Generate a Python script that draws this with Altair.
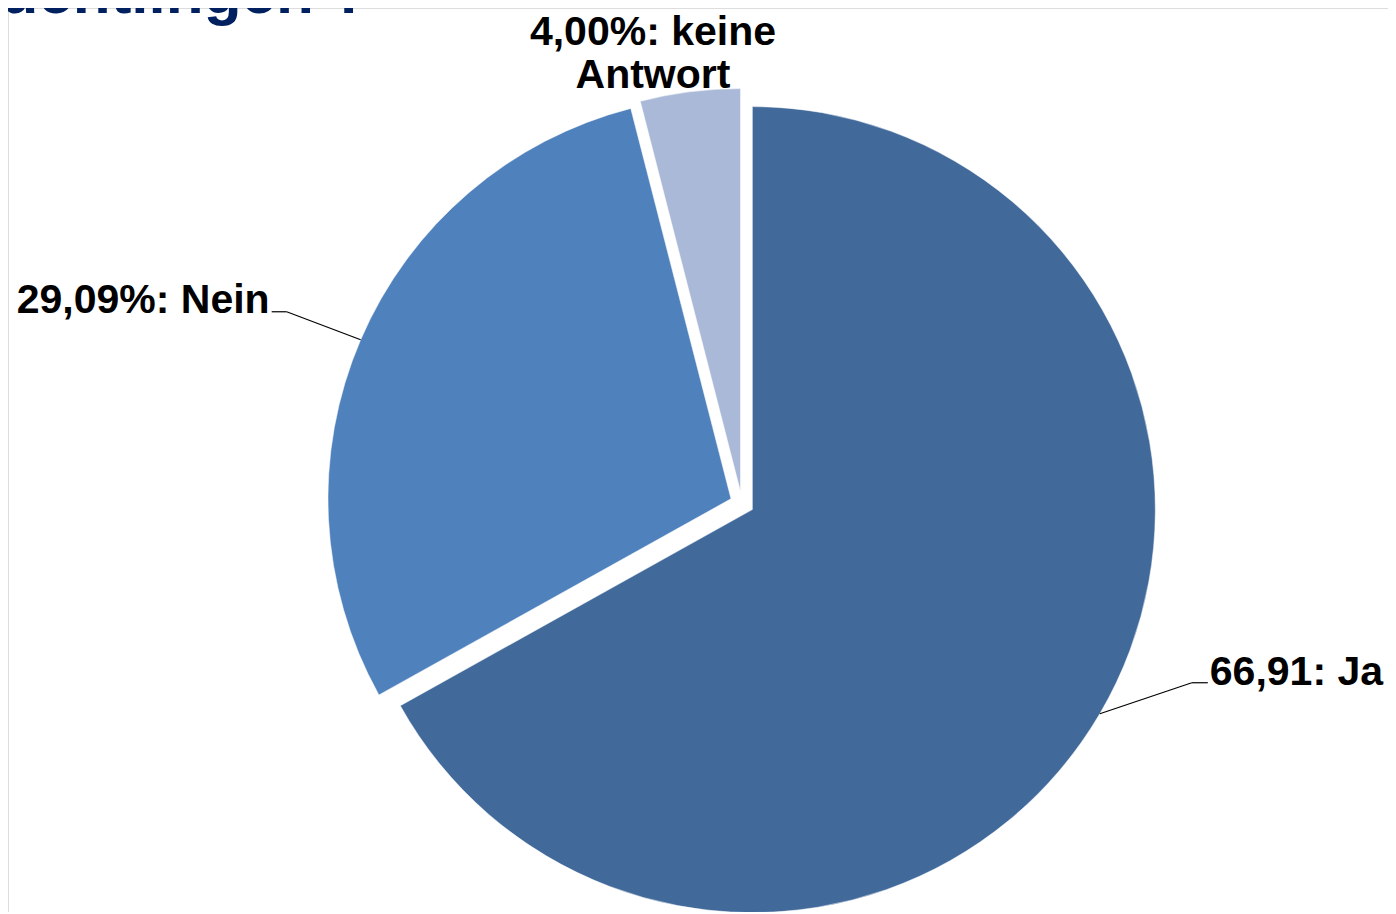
import altair as alt
import pandas as pd

# ---- data -------------------------------------------------------------
categories = ["Ja", "Nein", "keine Antwort"]
values = [66.91, 29.09, 4.00]
labels = ["66,91: Ja", "29,09%: Nein", "4,00%: keine\nAntwort"]
colors = ["#416A9B", "#4F81BD", "#AAB9D7"]
title_text = "Flüchtlingen ?"

# ---- layout (pixels, svg coordinates) ------------------------------------
CX, CY = 734, 495.5      # pie centre
R = 403                  # radius
EXPLODE = 12             # explosion of every slice
FONT = "Liberation Sans"
FS = 41

# label / leader geometry relative to the slice's outer mid point
layout = {
    "Ja":            dict(edx=92,  edy=-31, hdx=16,  tdx=2,  tdy=2, lead=1, side="left"),
    "Nein":          dict(edx=-74, edy=-28, hdx=-15, tdx=-2, tdy=1, lead=1, side="right"),
    "keine Antwort": dict(edx=-37, edy=-47, hdx=0,   tdx=0,  tdy=0, lead=0, side="center"),
}

df = pd.DataFrame({"category": categories, "value": values, "label": labels})
df["order"] = range(len(df))
for k in ["edx", "edy", "hdx", "tdx", "tdy", "lead", "side"]:
    df[k] = [layout[c][k] for c in categories]

base = (
    alt.Chart(df)
    .transform_window(cum="sum(value)", sort=[alt.SortField("order")], frame=[None, 0])
    .transform_calculate(
        start="datum.cum - datum.value",
        end="datum.cum",
        mid="(datum.cum - datum.value / 2) / 100 * 2 * PI",
    )
    .transform_calculate(
        px=f"{CX} + {EXPLODE} * sin(datum.mid)",
        py=f"{CY} - {EXPLODE} * cos(datum.mid)",
        ax=f"{CX} + {R + EXPLODE} * sin(datum.mid)",
        ay=f"{CY} - {R + EXPLODE} * cos(datum.mid)",
    )
    .transform_calculate(
        ex="datum.ax + datum.edx",
        ey="datum.ay + datum.edy",
    )
    .transform_calculate(
        hx="datum.ex + datum.hdx",
        tx="datum.ex + datum.hdx + datum.tdx",
        ty="datum.ey + datum.tdy",
    )
)

TAU = 6.283185307179586

pie = base.mark_arc(radius=R, stroke="white", strokeWidth=0.5).encode(
    x=alt.X("px:Q", scale=None, axis=None),
    y=alt.Y("py:Q", scale=None, axis=None),
    theta=alt.Theta("start:Q", scale=alt.Scale(domain=[0, 100], range=[0, TAU]), stack=False),
    theta2="end:Q",
    color=alt.Color("category:N", scale=alt.Scale(domain=categories, range=colors), legend=None),
)

lead1 = base.transform_filter("datum.lead == 1").mark_rule(color="black", strokeWidth=1.2).encode(
    x=alt.X("ax:Q", scale=None, axis=None),
    y=alt.Y("ay:Q", scale=None, axis=None),
    x2="ex:Q",
    y2="ey:Q",
)
lead2 = base.transform_filter("datum.lead == 1").mark_rule(color="black", strokeWidth=1.2).encode(
    x=alt.X("ex:Q", scale=None, axis=None),
    y=alt.Y("ey:Q", scale=None, axis=None),
    x2="hx:Q",
    y2="ey:Q",
)

def label_layer(side):
    return (
        base.transform_filter(f"datum.side == '{side}'")
        .mark_text(
            align=side,
            baseline="alphabetic",
            font=FONT,
            fontSize=FS,
            fontWeight="bold",
            color="black",
            lineBreak="\n",
            lineHeight=43,
        )
        .encode(
            x=alt.X("tx:Q", scale=None, axis=None),
            y=alt.Y("ty:Q", scale=None, axis=None),
            text="label:N",
        )
    )

title = (
    alt.Chart(pd.DataFrame({"t": [title_text]}))
    .mark_text(align="right", baseline="alphabetic", font=FONT, fontSize=62,
               fontWeight="bold", color="#002060")
    .encode(x=alt.value(361), y=alt.value(5), text="t:N")
)

chart = (
    alt.layer(pie, lead1, lead2, label_layer("left"), label_layer("right"),
              label_layer("center"), title)
    .properties(width=1380, height=904, padding=0, autosize=alt.AutoSizeParams(type="none"))
    .configure_view(strokeWidth=0, stroke="transparent")
    .configure(background="white")
)

chart.save("out.html", embed_options={"renderer": "svg", "actions": False})
